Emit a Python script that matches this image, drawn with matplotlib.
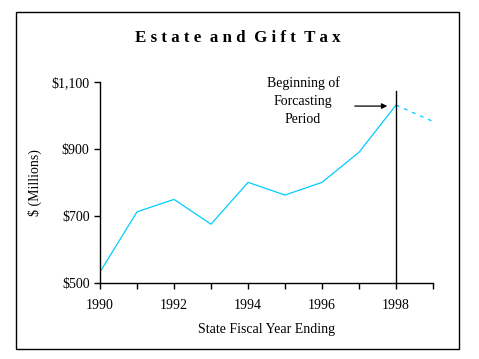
import matplotlib.pyplot as plt
from matplotlib.patches import Rectangle

# donnees
years = [1990, 1991, 1992, 1993, 1994, 1995, 1996, 1997, 1998]
values = [532, 712, 749, 675, 800, 762, 800, 890, 1031]
forecast_years = [1998, 1999]
forecast_values = [1031, 982]
y_ticks = [500, 700, 900, 1100]
y_labels = ['$500', '$700', '$900', '$1,100']
x_ticks = [1990, 1992, 1994, 1996, 1998]

plt.rcParams['font.family'] = 'Liberation Serif'
line_color = '#00ccff'

fig = plt.figure(figsize=(4.79, 3.59), dpi=100)
ax = fig.add_axes([0.2088, 0.2125, 0.6952, 0.5591])

ax.plot(years, values, color=line_color, linewidth=0.9)
ax.plot(forecast_years, forecast_values, color=line_color, linewidth=0.9,
        linestyle=(0, (3, 4)))

# debut de la prevision
ax.plot([1998, 1998], [500, 1073], color='black', linewidth=1, clip_on=False)
ax.annotate('', xy=(1997.84, 1028), xytext=(1996.81, 1028),
            arrowprops=dict(arrowstyle='-|>', color='black', lw=0.9,
                            mutation_scale=8))
ax.text(1995.49, 1116, 'Beginning of\nForcasting\nPeriod', ha='center',
        va='top', fontsize=10, linespacing=1.5)

ax.set_xlim(1990, 1999)
ax.set_ylim(500, 1100)
ax.set_xticks(x_ticks)
ax.set_xticks(list(range(1990, 2000)), minor=True)
ax.set_yticks(y_ticks)
ax.set_yticklabels(y_labels)
ax.tick_params(axis='both', which='both', direction='out', length=4,
               width=1, labelsize=10)
ax.tick_params(axis='x', pad=8)
for s in ['top', 'right']:
    ax.spines[s].set_visible(False)
for s in ['left', 'bottom']:
    ax.spines[s].set_linewidth(1)

ax.set_xlabel('State Fiscal Year Ending', fontsize=10, labelpad=8)
ax.set_ylabel('$ (Millions)', fontsize=10, labelpad=7)

fig.text(0.497, 0.894, 'E s t a t e  a n d  G i f t  T a x', ha='center',
         va='center', fontsize=12.2, fontweight='bold')

fig.patches.append(Rectangle((0.034, 0.028), 0.925, 0.938, transform=fig.transFigure,
                             fill=False, edgecolor='black', linewidth=1))

fig.savefig('out.png', dpi=100)
